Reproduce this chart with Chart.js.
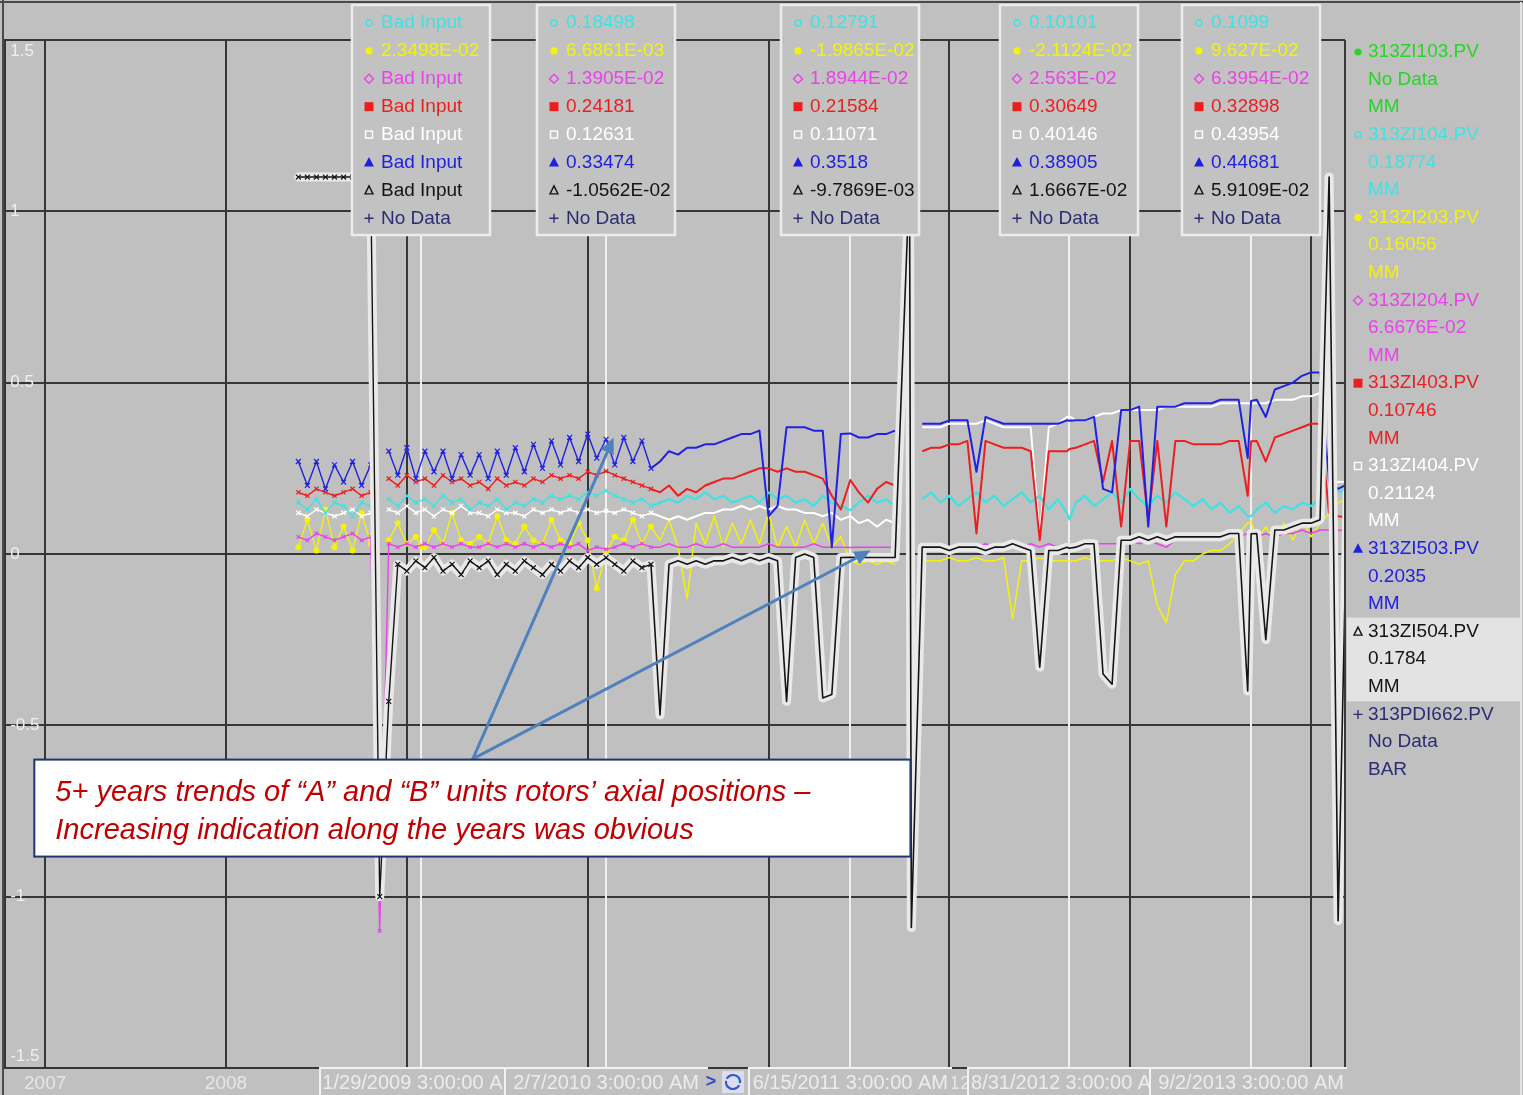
<!DOCTYPE html>
<html>
<head>
<meta charset="utf-8">
<title>Rotor axial position trends</title>
<script src="https://cdn.jsdelivr.net/npm/chart.js@4.4.1/dist/chart.umd.min.js"></script>
<style>
  html, body { margin: 0; padding: 0; background: #c0c0c0; overflow: hidden; }
  #c { display: block; }
</style>
</head>
<body>
<canvas id="c" width="1523" height="1095"></canvas>
<script>
// ---- sample times (decimal years) ----
const years = [
  2008.40,2008.45,2008.50,2008.55,2008.60,2008.65,2008.70,2008.75,2008.80,2008.85,
  2008.90,2008.95,2009.00,2009.05,2009.10,2009.15,2009.20,2009.25,2009.30,2009.35,
  2009.40,2009.45,2009.50,2009.55,2009.60,2009.65,2009.70,2009.75,2009.80,2009.85,
  2009.90,2009.95,2010.00,2010.05,2010.10,2010.15,2010.20,2010.25,2010.30,2010.35,
  2010.40,2010.45,2010.50,2010.55,2010.60,2010.65,2010.70,2010.75,2010.80,2010.85,
  2010.90,2010.95,2011.00,2011.05,2011.10,2011.15,2011.20,2011.25,2011.30,2011.35,
  2011.40,2011.45,2011.50,2011.55,2011.60,2011.65,2011.70,2011.78,2011.79,2011.85,
  2011.90,2011.95,2012.00,2012.05,2012.10,2012.15,2012.20,2012.25,2012.30,2012.35,
  2012.40,2012.45,2012.50,2012.55,2012.60,2012.65,2012.70,2012.75,2012.80,2012.85,
  2012.90,2012.95,2013.00,2013.05,2013.10,2013.15,2013.20,2013.25,2013.30,2013.35,
  2013.40,2013.45,2013.50,2013.55,2013.60,2013.65,2013.70,2013.75,2013.80,2013.85,
  2013.90,2013.95,2014.00,2014.05,2014.10,2014.15,2014.20
];

// ---- axial position, mm ----
const zi104 = [
  0.15,0.13,0.16,0.12,0.15,0.14,0.11,0.15,0.14,null,
  0.16,0.14,0.17,0.15,0.16,0.14,0.17,0.15,0.16,0.13,
  0.15,0.14,0.16,0.13,0.15,0.14,0.16,0.15,0.17,0.16,
  0.17,0.16,0.18,0.17,0.18,0.17,0.16,0.15,0.16,0.14,
  0.15,0.16,0.15,0.17,0.16,0.18,0.16,0.17,0.15,0.16,
  0.17,0.15,0.18,0.16,0.17,0.15,0.16,0.14,0.17,0.15,
  0.14,0.13,0.15,0.17,0.15,0.16,0.14,null,null,0.16,
  0.18,0.15,0.17,0.14,0.16,0.18,0.15,0.17,0.14,0.16,
  0.18,0.15,0.17,0.13,0.16,0.12,0.15,0.17,0.14,0.16,
  0.18,0.15,0.19,0.16,0.14,0.17,0.15,0.18,0.16,0.14,
  0.16,0.13,0.15,0.12,0.14,0.11,0.13,0.15,0.12,0.14,
  0.13,0.15,0.14,0.16,0.19,0.18,0.18774
];
const zi203 = [
  0.02,0.10,0.01,0.13,0.02,0.08,0.01,0.12,0.03,null,
  0.04,0.09,0.03,0.05,0.02,0.07,0.03,0.12,0.04,0.03,
  0.05,0.03,0.11,0.04,0.03,0.08,0.04,0.03,0.10,0.04,
  0.03,0.09,0.04,-0.10,0.01,0.05,0.04,0.10,0.03,0.08,
  0.04,0.10,0.02,-0.13,0.09,0.03,0.11,0.02,0.09,0.03,
  0.10,0.03,0.12,0.02,0.08,0.02,0.10,0.03,0.09,0.02,
  0.05,-0.02,-0.03,-0.02,-0.03,-0.02,-0.03,null,null,-0.02,
  -0.02,-0.02,-0.01,-0.02,-0.02,-0.01,-0.02,-0.02,-0.01,-0.19,
  -0.02,-0.02,-0.01,-0.02,-0.02,-0.02,-0.02,-0.01,-0.02,-0.02,
  -0.02,-0.01,-0.02,-0.03,-0.02,-0.15,-0.20,-0.06,-0.02,-0.02,
  0.00,0.01,0.01,0.03,0.06,0.09,0.04,0.08,0.03,0.09,
  0.04,0.10,0.05,0.09,0.12,0.15,0.16056
];
const zi204 = [
  0.05,0.04,0.06,0.05,0.04,0.05,0.06,0.04,0.05,-1.10,
  0.03,0.02,0.03,0.02,0.03,0.02,0.03,0.02,0.03,0.02,
  0.02,0.03,0.02,0.03,0.02,0.03,0.02,0.03,0.02,0.03,
  0.02,0.03,0.01,0.02,0.01,0.02,0.03,0.02,0.03,0.02,
  0.02,0.03,0.02,0.02,0.03,0.02,0.02,0.03,0.02,0.02,
  0.02,0.02,0.03,0.02,0.02,0.02,0.02,0.03,0.02,0.02,
  0.02,0.02,0.02,0.02,0.02,0.02,0.02,null,null,0.02,
  0.02,0.02,0.02,0.03,0.02,0.02,0.03,0.02,0.02,0.03,
  0.02,0.03,0.02,0.03,0.02,0.03,0.03,0.02,0.03,0.03,
  0.03,0.03,0.04,0.03,0.04,0.03,0.02,0.04,0.04,0.04,
  0.04,0.05,0.04,0.05,0.05,0.06,0.05,0.06,0.05,0.06,
  0.06,0.07,0.06,0.07,0.07,0.07,0.066676
];
const zi403 = [
  0.18,0.17,0.19,0.18,0.17,0.18,0.19,0.17,0.18,null,
  0.22,0.20,0.23,0.21,0.22,0.20,0.23,0.21,0.22,0.20,
  0.21,0.19,0.22,0.20,0.21,0.20,0.22,0.21,0.23,0.22,
  0.23,0.22,0.24,0.23,0.24,0.23,0.22,0.21,0.20,0.19,
  0.18,0.20,0.17,0.19,0.18,0.20,0.21,0.22,0.22,0.23,
  0.24,0.25,0.25,0.24,0.25,0.24,0.24,0.23,0.22,0.17,
  0.13,0.22,0.18,0.15,0.19,0.21,0.20,null,null,0.30,
  0.31,0.31,0.32,0.32,0.33,0.06,0.33,0.32,0.31,0.31,
  0.31,0.30,0.04,0.30,0.30,0.30,0.31,0.32,0.33,0.21,
  0.33,0.08,0.33,0.33,0.10,0.33,0.08,0.33,0.33,0.32,
  0.32,0.32,0.32,0.33,0.33,0.17,0.33,0.27,0.34,0.35,
  0.36,0.37,0.38,0.38,0.12,0.11,0.10746
];
const zi404 = [
  0.12,0.11,0.13,0.12,0.11,0.12,0.13,0.11,0.12,null,
  0.13,0.12,0.14,0.12,0.13,0.11,0.13,0.12,0.14,0.12,
  0.12,0.11,0.13,0.12,0.12,0.11,0.13,0.12,0.13,0.12,
  0.13,0.12,0.13,0.12,0.13,0.12,0.13,0.12,0.11,0.12,
  0.11,0.10,0.11,0.10,0.11,0.12,0.12,0.13,0.13,0.14,
  0.13,0.14,0.13,0.14,0.13,0.13,0.12,0.12,0.11,0.12,
  0.10,0.11,0.09,0.10,0.08,0.10,0.09,null,null,0.37,
  0.37,0.37,0.38,0.38,0.38,0.38,0.39,0.38,0.37,0.37,
  0.37,0.37,0.05,0.37,0.38,0.40,0.39,0.39,0.40,0.41,
  0.41,0.42,0.42,0.42,0.42,0.42,0.43,0.43,0.43,0.43,
  0.43,0.43,0.44,0.44,0.44,0.44,0.44,0.44,0.45,0.45,
  0.45,0.46,0.46,0.47,0.22,0.21,0.21124
];
const zi503 = [
  0.27,0.20,0.27,0.19,0.26,0.21,0.27,0.20,0.26,null,
  0.30,0.23,0.31,0.22,0.30,0.24,0.30,0.22,0.29,0.23,
  0.29,0.22,0.30,0.23,0.31,0.24,0.32,0.25,0.33,0.26,
  0.34,0.27,0.35,0.28,0.33,0.26,0.34,0.27,0.33,0.25,
  0.27,0.30,0.29,0.31,0.31,0.32,0.32,0.33,0.34,0.35,
  0.35,0.36,0.11,0.14,0.37,0.37,0.37,0.36,0.36,0.02,
  0.35,0.35,0.34,0.34,0.35,0.35,0.36,null,null,0.38,
  0.38,0.38,0.39,0.39,0.39,0.24,0.40,0.39,0.38,0.38,
  0.38,0.38,0.38,0.38,0.38,0.39,0.39,0.39,0.40,0.19,
  0.18,0.42,0.42,0.43,0.08,0.43,0.43,0.43,0.44,0.44,
  0.44,0.44,0.45,0.45,0.45,0.28,0.45,0.40,0.48,0.49,
  0.50,0.52,0.53,0.53,0.21,0.19,0.2035
];
const zi504 = [
  1.10,1.10,1.10,1.10,1.10,1.10,1.10,1.10,1.10,-1.00,
  -0.43,-0.03,-0.05,-0.02,-0.04,-0.01,-0.05,-0.03,-0.06,-0.02,
  -0.04,-0.02,-0.06,-0.03,-0.05,-0.02,-0.04,-0.06,-0.03,-0.05,
  -0.02,-0.04,-0.01,-0.03,-0.01,-0.03,-0.05,-0.02,-0.04,-0.03,
  -0.47,-0.03,-0.02,-0.03,-0.02,-0.03,-0.02,-0.02,-0.01,-0.02,
  -0.01,-0.02,-0.01,-0.02,-0.43,-0.01,0.00,-0.01,-0.42,-0.41,
  -0.01,-0.01,-0.01,-0.01,-0.01,-0.01,-0.01,1.10,-1.09,0.02,
  0.02,0.02,0.01,0.02,0.02,0.02,0.01,0.02,0.02,0.03,
  0.02,0.01,-0.33,0.01,0.01,0.02,0.02,0.03,0.03,-0.35,
  -0.38,0.04,0.04,0.05,0.04,0.05,0.04,0.05,0.05,0.05,
  0.05,0.05,0.05,0.06,0.06,-0.40,0.06,-0.25,0.07,0.07,
  0.08,0.09,0.09,0.10,1.10,-1.07,0.1784
];

// ---- cursor readouts (null = Bad Input) ----
const cursorStamps = ['1/29/2009 3:00:00 AM', '2/7/2010 3:00:00 AM', '6/15/2011 3:00:00 AM', '8/31/2012 3:00:00 AM', '9/2/2013 3:00:00 AM'];
const read104 = [null, 0.18498, 0.12791, 0.10101, 0.1099];
const read203 = [0.023498, 0.0066861, -0.019865, -0.021124, 0.09627];
const read204 = [null, 0.013905, 0.018944, 0.02563, 0.063954];
const read403 = [null, 0.24181, 0.21584, 0.30649, 0.32898];
const read404 = [null, 0.12631, 0.11071, 0.40146, 0.43954];
const read503 = [null, 0.33474, 0.3518, 0.38905, 0.44681];
const read504 = [null, -0.010562, -0.0097869, 0.016667, 0.059109];

// ---- axis ticks ----
const yearTicks = [2007, 2008, 2009, 2010, 2011, 2012, 2013, 2014];
const valueTicks = [-1.5, -1, -0.5, 0, 0.5, 1, 1.5];

// ---- tags ----
const tagNames = ['313ZI103.PV', '313ZI104.PV', '313ZI203.PV', '313ZI204.PV', '313ZI403.PV', '313ZI404.PV', '313ZI503.PV', '313ZI504.PV', '313PDI662.PV'];
const tagUnits = ['MM', 'MM', 'MM', 'MM', 'MM', 'MM', 'MM', 'MM', 'BAR'];

const FONT = '"Liberation Sans", Arial, sans-serif';
const DENSE_UNTIL = 2010.38;   // older archive: every sample marked

const tags = [
  { color: '#26d626', marker: 'dot',     values: null,  reads: null },
  { color: '#3fe2e2', marker: 'ring',    values: zi104, reads: read104, order: 4, width: 2.2, point: 'crossRot', r: 3 },
  { color: '#f2f20c', marker: 'dot',     values: zi203, reads: read203, order: 7, width: 1.5, point: 'circle',   r: 2.4 },
  { color: '#ea42ea', marker: 'diamond', values: zi204, reads: read204, order: 6, width: 1.5, point: 'crossRot', r: 2.5 },
  { color: '#ec1e1e', marker: 'square',  values: zi403, reads: read403, order: 3, width: 2,   point: 'crossRot', r: 3 },
  { color: '#ffffff', marker: 'box',     values: zi404, reads: read404, order: 5, width: 2,   point: 'crossRot', r: 3 },
  { color: '#2020e2', marker: 'tri',     values: zi503, reads: read503, order: 2, width: 2,   point: 'crossRot', r: 3.5 },
  { color: '#141414', marker: 'otri',    values: zi504, reads: read504, order: 0, width: 1.6, point: 'crossRot', r: 3.5 },
  { color: '#2c2c72', marker: 'plus',    values: null,  reads: null }
];

function decimalYear(stamp) {
  const m = stamp.match(/(\d+)\/(\d+)\/(\d+) (\d+):(\d+):(\d+) (AM|PM)/);
  const mo = +m[1], d = +m[2], y = +m[3];
  let h = +m[4] % 12; if (m[7] === 'PM') h += 12;
  const t = Date.UTC(y, mo - 1, d, h, +m[5], +m[6]);
  const a = Date.UTC(y, 0, 1), b = Date.UTC(y + 1, 0, 1);
  return y + (t - a) / (b - a);
}
const cursorYears = cursorStamps.map(decimalYear);

function fmt(v) {
  if (v === null || v === undefined) return 'Bad Input';
  const a = Math.abs(v);
  if (a > 0 && a < 0.1) {
    const parts = v.toExponential(4).split('e');
    const mant = parts[0].replace(/0+$/, '').replace(/\.$/, '');
    const e = parseInt(parts[1], 10);
    return mant + 'E' + (e < 0 ? '-' : '+') + String(Math.abs(e)).padStart(2, '0');
  }
  return v.toPrecision(5).replace(/0+$/, '').replace(/\.$/, '');
}

// archived samples plus the cursor readouts, in time order
function buildPoints(values, reads) {
  const pts = [];
  years.forEach((t, i) => {
    if (cursorYears.some(c => Math.abs(c - t) < 0.012)) return;
    pts.push({ x: t, y: values[i] });
  });
  reads.forEach((v, k) => { if (v !== null) pts.push({ x: cursorYears[k], y: v }); });
  pts.sort((p, q) => p.x - q.x);
  return pts;
}

const datasets = [];
tags.forEach((s, i) => {
  if (!s.values) return;
  const pts = buildPoints(s.values, s.reads);
  const w = s.width;
  datasets.push({
    label: tagNames[i], data: pts, order: s.order,
    borderColor: s.color, backgroundColor: s.color, borderWidth: w,
    borderJoinStyle: 'round', tension: 0,
    segment: { borderWidth: c => (c.p1.parsed.x < DENSE_UNTIL ? Math.min(w, 1.4) : w) },
    pointStyle: s.point,
    pointRadius: c => (c.raw && c.raw.x < DENSE_UNTIL ? s.r : 0),
    pointBorderWidth: 1.2,
    pointBorderColor: s.color, pointBackgroundColor: s.color
  });
  if (tagNames[i] === '313ZI504.PV') {
    // selected trace: pale halo underneath
    datasets.push({
      label: tagNames[i] + ' halo', data: pts, order: 1,
      borderColor: '#e9e9e9', borderWidth: 9, borderJoinStyle: 'round', borderCapStyle: 'round',
      pointRadius: 0, tension: 0
    });
  }
});

// callout, placed in data units
const callout = {
  x0: 2006.94, x1: 2011.785, yTop: -0.60, yBottom: -0.883,
  lines: ['5+ years trends of \u201cA\u201d and \u201cB\u201d units rotors\u2019 axial positions \u2013',
          'Increasing indication along the years was obvious']
};
const arrowFrom = { x: 2009.365, y: -0.598 };
const arrowTips = [{ x: 2010.144, y: 0.34 }, { x: 2011.564, y: 0.01 }];

function drawMarker(ctx, kind, x, y, color) {
  ctx.save();
  ctx.fillStyle = color; ctx.strokeStyle = color; ctx.lineWidth = 1.4;
  ctx.beginPath();
  switch (kind) {
    case 'dot': ctx.arc(x, y, 3.6, 0, Math.PI * 2); ctx.fill(); break;
    case 'ring': ctx.arc(x, y, 3, 0, Math.PI * 2); ctx.stroke(); break;
    case 'diamond':
      ctx.moveTo(x, y - 4.5); ctx.lineTo(x + 4.5, y); ctx.lineTo(x, y + 4.5); ctx.lineTo(x - 4.5, y);
      ctx.closePath(); ctx.stroke(); break;
    case 'square': ctx.fillRect(x - 4.5, y - 4.5, 9, 9); break;
    case 'box': ctx.strokeRect(x - 3.5, y - 3.5, 7, 7); break;
    case 'tri':
      ctx.moveTo(x, y - 5.5); ctx.lineTo(x + 5, y + 4); ctx.lineTo(x - 5, y + 4); ctx.closePath(); ctx.fill(); break;
    case 'otri':
      ctx.moveTo(x, y - 4.5); ctx.lineTo(x + 4, y + 3.5); ctx.lineTo(x - 4, y + 3.5); ctx.closePath(); ctx.stroke(); break;
    case 'plus':
      ctx.moveTo(x - 4.5, y); ctx.lineTo(x + 4.5, y); ctx.moveTo(x, y - 4.5); ctx.lineTo(x, y + 4.5); ctx.stroke(); break;
  }
  ctx.restore();
}

function lastValue(arr) {
  for (let i = arr.length - 1; i >= 0; i--) if (arr[i] !== null) return arr[i];
  return null;
}

const trendFrame = {
  id: 'trendFrame',
  beforeDraw(chart) {
    const c = chart.ctx;
    c.save(); c.fillStyle = '#c0c0c0'; c.fillRect(0, 0, chart.width, chart.height); c.restore();
  },
  beforeDatasetsDraw(chart) {
    const { ctx, chartArea: a, scales: { x, y } } = chart;
    ctx.save();
    // value scale labels, inside the plot at the left edge
    ctx.font = '17px ' + FONT; ctx.fillStyle = '#efefef'; ctx.textAlign = 'left';
    valueTicks.forEach(v => {
      const py = y.getPixelForValue(v);
      if (py <= a.top + 1) { ctx.textBaseline = 'top'; ctx.fillText(String(v), a.left + 5, py + 3); }
      else if (py >= a.bottom - 1) { ctx.textBaseline = 'bottom'; ctx.fillText(String(v), a.left + 5, py - 3); }
      else { ctx.textBaseline = 'middle'; ctx.fillText(String(v), a.left + 5, py); }
    });
    // cursor hairlines
    ctx.strokeStyle = '#f0f0f0'; ctx.lineWidth = 2;
    cursorYears.forEach(t => {
      const px = Math.round(x.getPixelForValue(t));
      ctx.beginPath(); ctx.moveTo(px, a.top); ctx.lineTo(px, a.bottom); ctx.stroke();
    });
    ctx.restore();
  },
  afterDraw(chart) {
    const { ctx, chartArea: a, scales: { x, y } } = chart;
    const W = chart.width, H = chart.height;
    ctx.save();

    // window frame and plot right edge
    ctx.strokeStyle = '#4a4a4a'; ctx.lineWidth = 2;
    ctx.beginPath(); ctx.moveTo(0, 2); ctx.lineTo(W, 2); ctx.stroke();
    ctx.beginPath(); ctx.moveTo(3, 0); ctx.lineTo(3, H); ctx.stroke();
    ctx.strokeStyle = '#3a3a3a';
    ctx.beginPath(); ctx.moveTo(a.right, a.top); ctx.lineTo(a.right, a.bottom); ctx.stroke();
    ctx.strokeStyle = '#e2e2e2';
    ctx.beginPath(); ctx.moveTo(W - 2, 2); ctx.lineTo(W - 2, H); ctx.stroke();

    // cursor readout boxes
    ctx.textBaseline = 'middle'; ctx.textAlign = 'left';
    ctx.font = '19px ' + FONT;
    cursorYears.forEach((t, k) => {
      const cx = x.getPixelForValue(t);
      const w = 138, left = Math.round(cx - w / 2), top = 5, h = 230;
      ctx.fillStyle = '#c2c2c2'; ctx.fillRect(left, top, w, h);
      ctx.strokeStyle = '#ebebeb'; ctx.lineWidth = 2.5; ctx.strokeRect(left, top, w, h);
      for (let r = 1; r < tags.length; r++) {
        const s = tags[r];
        const yy = 22 + (r - 1) * 27.9;
        drawMarker(ctx, s.marker, left + 17, yy + 1, s.color);
        ctx.fillStyle = s.color;
        ctx.fillText(s.reads ? fmt(s.reads[k]) : 'No Data', left + 29, yy + 1);
      }
    });

    // cursor time stamps under the plot
    ctx.save();
    ctx.beginPath(); ctx.rect(0, a.bottom - 2, a.right + 2, H - a.bottom + 2); ctx.clip();
    ctx.font = '20px ' + FONT; ctx.textAlign = 'center';
    cursorStamps.forEach((st, k) => {
      const cx = x.getPixelForValue(cursorYears[k]);
      const w = 204, l = Math.round(cx - w / 2), t = a.bottom - 1;
      ctx.fillStyle = '#c0c0c0'; ctx.fillRect(l, t, w, H - t);
      ctx.strokeStyle = '#f2f2f2'; ctx.lineWidth = 2;
      ctx.beginPath(); ctx.moveTo(l, t + 1); ctx.lineTo(l + w, t + 1); ctx.stroke();
      ctx.beginPath(); ctx.moveTo(l + 1, t); ctx.lineTo(l + 1, H); ctx.stroke();
      ctx.fillStyle = '#ececec';
      ctx.fillText(st, cx, t + 16);
      if (k === 1) {
        // scroll control next to the second stamp
        const bx = Math.round(cx + 98);
        ctx.fillStyle = '#c0c0c0'; ctx.fillRect(bx, t + 2, 44, H - t - 2);
        ctx.fillStyle = '#2d50c8'; ctx.font = 'bold 18px ' + FONT;
        ctx.fillText('>', bx + 7, t + 15);
        ctx.fillStyle = '#dcdcec'; ctx.fillRect(bx + 18, t + 4, 22, 22);
        ctx.strokeStyle = '#2d5ad0'; ctx.lineWidth = 2.2;
        ctx.beginPath(); ctx.arc(bx + 29, t + 15, 7, Math.PI * 0.15, Math.PI * 1.05); ctx.stroke();
        ctx.beginPath(); ctx.arc(bx + 29, t + 15, 7, Math.PI * 1.15, Math.PI * 2.05); ctx.stroke();
        ctx.font = '20px ' + FONT;
      }
    });
    ctx.restore();

    // tag panel on the right
    const rowH = 27.6, y0 = 52, mx = a.right + 13, tx = a.right + 23;
    ctx.fillStyle = '#e3e3e3';
    ctx.fillRect(a.right + 2, y0 + rowH * 21 - 14, W - a.right - 4, rowH * 3 + 1);
    ctx.font = '19px ' + FONT; ctx.textAlign = 'left'; ctx.textBaseline = 'middle';
    tags.forEach((s, i) => {
      const yy = y0 + rowH * 3 * i;
      drawMarker(ctx, s.marker, mx, yy, s.color);
      ctx.fillStyle = s.color;
      ctx.fillText(tagNames[i], tx, yy);
      ctx.fillText(s.values ? fmt(lastValue(s.values)) : 'No Data', tx, yy + rowH);
      ctx.fillText(tagUnits[i], tx, yy + rowH * 2);
    });

    // arrows
    const fx = x.getPixelForValue(arrowFrom.x), fy = y.getPixelForValue(arrowFrom.y);
    ctx.strokeStyle = '#4f81bd'; ctx.fillStyle = '#4f81bd'; ctx.lineWidth = 3; ctx.lineCap = 'round';
    arrowTips.forEach(tp => {
      const px = x.getPixelForValue(tp.x), py = y.getPixelForValue(tp.y);
      const ang = Math.atan2(py - fy, px - fx), L = 16, hw = 7;
      const bx = px - L * Math.cos(ang), by = py - L * Math.sin(ang);
      ctx.beginPath(); ctx.moveTo(fx, fy); ctx.lineTo(bx, by); ctx.stroke();
      ctx.beginPath();
      ctx.moveTo(px, py);
      ctx.lineTo(bx + hw * Math.sin(ang), by - hw * Math.cos(ang));
      ctx.lineTo(bx - hw * Math.sin(ang), by + hw * Math.cos(ang));
      ctx.closePath(); ctx.fill();
    });

    // callout box
    const bl = x.getPixelForValue(callout.x0), br = x.getPixelForValue(callout.x1);
    const bt = y.getPixelForValue(callout.yTop), bb = y.getPixelForValue(callout.yBottom);
    ctx.fillStyle = '#ffffff'; ctx.fillRect(bl, bt, br - bl, bb - bt);
    ctx.strokeStyle = '#1f3470'; ctx.lineWidth = 2; ctx.strokeRect(bl, bt, br - bl, bb - bt);
    ctx.fillStyle = '#c00000'; ctx.font = 'italic 29px ' + FONT;
    ctx.textAlign = 'left'; ctx.textBaseline = 'alphabetic';
    ctx.fillText(callout.lines[0], bl + 21, bt + 41);
    ctx.fillText(callout.lines[1], bl + 21, bt + 79);

    ctx.restore();
  }
};

new Chart(document.getElementById('c'), {
  type: 'line',
  data: { datasets },
  options: {
    responsive: false,
    animation: false,
    devicePixelRatio: 1,
    events: [],
    spanGaps: false,
    layout: { padding: { left: 4, top: 40, right: 178, bottom: 0 } },
    plugins: { legend: { display: false }, tooltip: { enabled: false } },
    scales: {
      x: {
        type: 'linear',
        min: 2006.779, max: 2014.188,
        afterBuildTicks: s => { s.ticks = yearTicks.map(v => ({ value: v })); },
        afterFit: s => { s.height = 27; },
        grid: { color: '#363636', lineWidth: 2, drawTicks: false },
        border: { display: true, color: '#363636', width: 2 },
        ticks: {
          callback: v => String(v), autoSkip: false, maxRotation: 0, padding: 4,
          color: '#e6e6e6', font: { size: 19, family: FONT }
        }
      },
      y: {
        type: 'linear',
        min: -1.5, max: 1.5,
        afterBuildTicks: s => { s.ticks = valueTicks.map(v => ({ value: v })); },
        afterFit: s => { s.width = 0; },
        grid: { color: '#363636', lineWidth: 2, drawTicks: false },
        border: { display: true, color: '#363636', width: 2 },
        ticks: { display: false }
      }
    }
  },
  plugins: [trendFrame]
});
</script>
</body>
</html>
